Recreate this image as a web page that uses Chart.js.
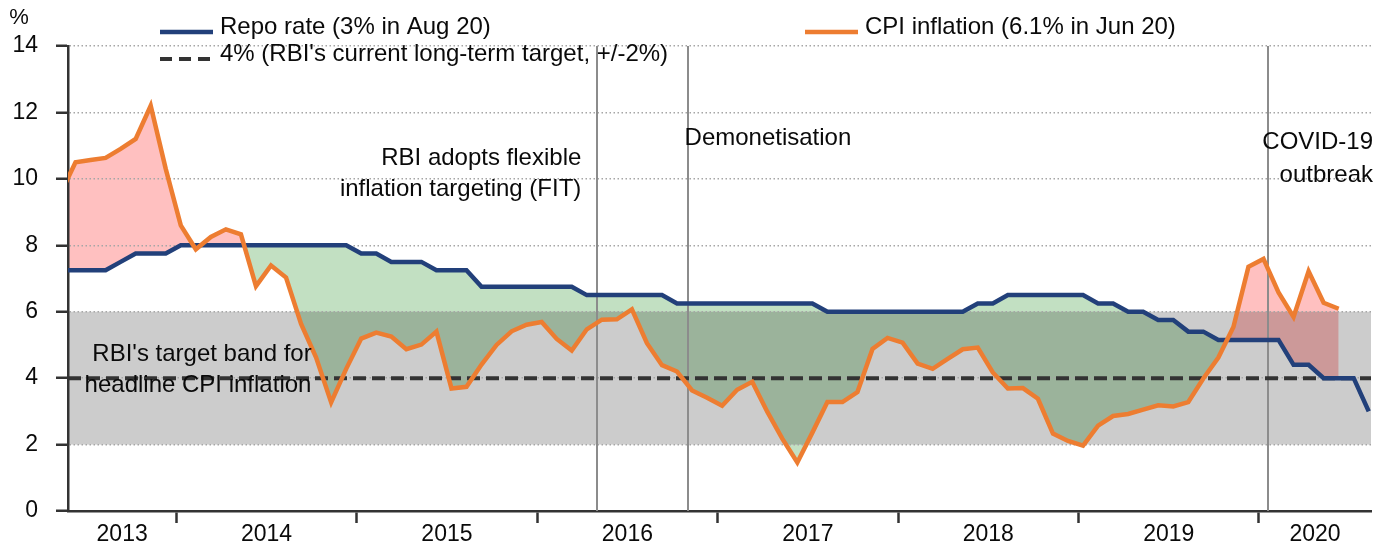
<!DOCTYPE html>
<html>
<head>
<meta charset="utf-8">
<script src="https://cdn.jsdelivr.net/npm/chart.js@4.4.1/dist/chart.umd.min.js"></script>
<style>
  html, body { margin: 0; padding: 0; background: #fff; }
  #wrap { width: 1391px; height: 548px; }
</style>
</head>
<body>
<div id="wrap"><canvas id="graph"></canvas></div>
<script>
// x is counted in months from Jan 2013 (= 0); each monthly value sits a bit into its month
const firstMonth = 4;      // May 2013
const pointOffset = 0.3;
const xMin = 4.8;
const xMax = 91.45;

const yearLabels = ['2013', '2014', '2015', '2016', '2017', '2018', '2019', '2020'];
const yTicks = [0, 2, 4, 6, 8, 10, 12, 14];

// repo rate, May 2013 - Aug 2020
const repoRate = [
  7.25, 7.25, 7.25, 7.25, 7.5, 7.75, 7.75, 7.75,
  8, 8, 8, 8, 8, 8, 8, 8, 8, 8, 8, 8,
  7.75, 7.75, 7.5, 7.5, 7.5, 7.25, 7.25, 7.25, 6.75, 6.75, 6.75, 6.75,
  6.75, 6.75, 6.75, 6.5, 6.5, 6.5, 6.5, 6.5, 6.5, 6.25, 6.25, 6.25,
  6.25, 6.25, 6.25, 6.25, 6.25, 6.25, 6.25, 6, 6, 6, 6, 6,
  6, 6, 6, 6, 6, 6.25, 6.25, 6.5, 6.5, 6.5, 6.5, 6.5,
  6.5, 6.25, 6.25, 6, 6, 5.75, 5.75, 5.4, 5.4, 5.15, 5.15, 5.15,
  5.15, 5.15, 4.4, 4.4, 4, 4, 4, 3
];

// CPI inflation, May 2013 - Jun 2020
const cpiInflation = [
  9.55, 10.5, 10.57, 10.63, 10.9, 11.2, 12.2, 10.3,
  8.6, 7.88, 8.25, 8.48, 8.33, 6.77, 7.39, 7.03, 5.63, 4.62, 3.27, 4.28,
  5.19, 5.37, 5.25, 4.87, 5.01, 5.4, 3.69, 3.74, 4.41, 5.0, 5.41, 5.61,
  5.69, 5.18, 4.83, 5.47, 5.76, 5.77, 6.07, 5.05, 4.39, 4.2, 3.63, 3.41,
  3.17, 3.65, 3.89, 2.99, 2.18, 1.46, 2.36, 3.28, 3.28, 3.58, 4.88, 5.21,
  5.07, 4.44, 4.28, 4.58, 4.87, 4.92, 4.17, 3.69, 3.7, 3.38, 2.33, 2.11,
  1.97, 2.57, 2.86, 2.92, 3.05, 3.18, 3.15, 3.28, 3.99, 4.62, 5.54, 7.35,
  7.59, 6.58, 5.84, 7.22, 6.27, 6.09
];

const targetRate = 4;
const targetBand = [2, 6];

const events = [
  { x: 40.0, lines: ['RBI adopts flexible', 'inflation targeting (FIT)'], align: 'right', y: [10.63, 9.67] },
  { x: 46.0, lines: ['Demonetisation'], align: 'left', y: [11.23] },
  { x: 84.6, lines: ['COVID-19', 'outbreak'], align: 'edge', y: [11.1, 10.1] }
];
const bandText = ["RBI's target band for", 'headline CPI inflation'];

const FONT = "'Liberation Sans', Arial, sans-serif";

const toPoints = arr => arr.map((v, i) => ({ x: firstMonth + i + pointOffset, y: v }));

// year boundaries get a tick mark, year middles get the label
const boundaries = yearLabels.slice(1).map((_, i) => 12 * (i + 1));
const labelTicks = yearLabels.map((label, i) => {
  const lo = Math.max(12 * i, xMin);
  const hi = Math.min(12 * (i + 1), xMax);
  return { value: (lo + hi) / 2, label: label };
});
const isBoundary = v => boundaries.some(b => Math.abs(b - v) < 1e-6);

const bandPlugin = {
  id: 'band',
  beforeDraw(chart) {
    const { ctx, chartArea, scales } = chart;
    const yTop = scales.y.getPixelForValue(targetBand[1]);
    const yBot = scales.y.getPixelForValue(targetBand[0]);
    ctx.save();
    ctx.fillStyle = 'rgba(0,0,0,0.2)';
    ctx.fillRect(chartArea.left, yTop, chartArea.right - chartArea.left, yBot - yTop);
    ctx.restore();
  },
  beforeDatasetsDraw(chart) {
    const { ctx, chartArea, scales } = chart;
    ctx.save();
    ctx.strokeStyle = '#8c8c8c';
    ctx.lineWidth = 2;
    events.forEach(e => {
      const px = Math.round(scales.x.getPixelForValue(e.x));
      ctx.beginPath();
      ctx.moveTo(px, chartArea.top);
      ctx.lineTo(px, chartArea.bottom);
      ctx.stroke();
    });
    ctx.restore();
  },
  afterDraw(chart) {
    const { ctx, chartArea, scales } = chart;
    ctx.save();
    ctx.fillStyle = '#0a0a0a';
    ctx.textBaseline = 'middle';
    ctx.font = '24px ' + FONT;
    events.forEach(e => {
      const px = scales.x.getPixelForValue(e.x);
      e.lines.forEach((t, i) => {
        const py = scales.y.getPixelForValue(e.y[i]);
        if (e.align === 'right') {
          ctx.textAlign = 'right';
          ctx.fillText(t, px - 16, py);
        } else if (e.align === 'left') {
          ctx.textAlign = 'left';
          ctx.fillText(t, px - 3, py);
        } else {
          ctx.textAlign = 'right';
          ctx.fillText(t, chartArea.right + 2, py);
        }
      });
    });
    ctx.textAlign = 'center';
    ctx.fillText(bandText[0], chartArea.left + 134, scales.y.getPixelForValue(4.73));
    ctx.fillText(bandText[1], chartArea.left + 130, scales.y.getPixelForValue(3.79));

    // unit
    ctx.font = '22px ' + FONT;
    ctx.fillText('%', 19, 18);

    // legend
    const slots = [
      { ds: 1, x: 160, y: 27 },
      { ds: 2, x: 160, y: 54 },
      { ds: 0, x: 805, y: 27 }
    ];
    ctx.font = '24px ' + FONT;
    ctx.textAlign = 'left';
    slots.forEach(s => {
      const d = chart.data.datasets[s.ds];
      ctx.save();
      ctx.strokeStyle = d.borderColor;
      ctx.lineWidth = d.borderWidth;
      ctx.setLineDash(d.borderDash ? [12, 7] : []);
      ctx.beginPath();
      ctx.moveTo(s.x, s.y + 5);
      ctx.lineTo(s.x + 53, s.y + 5);
      ctx.stroke();
      ctx.restore();
      ctx.fillText(d.label, s.x + 60, s.y);
    });
    ctx.restore();
  }
};

new Chart(document.getElementById('graph'), {
  type: 'line',
  data: {
    datasets: [{
      label: 'CPI inflation (6.1% in Jun 20)',
      data: toPoints(cpiInflation),
      borderColor: '#ed7d31',
      borderWidth: 4.5,
      pointRadius: 0,
      fill: { target: 1, above: '#ffc0c0', below: '#c2e0c2' }
    }, {
      label: 'Repo rate (3% in Aug 20)',
      data: toPoints(repoRate),
      borderColor: '#22407a',
      borderWidth: 4.5,
      pointRadius: 0,
      fill: false
    }, {
      label: "4% (RBI's current long-term target, +/-2%)",
      data: [{ x: xMin, y: targetRate }, { x: xMax, y: targetRate }],
      borderColor: '#333333',
      borderWidth: 4,
      borderDash: [13, 6],
      pointRadius: 0,
      fill: false
    }]
  },
  options: {
    responsive: true,
    maintainAspectRatio: false,
    animation: false,
    layout: { padding: { top: 46, right: 20, bottom: 0, left: 0 } },
    scales: {
      x: {
        type: 'linear',
        min: xMin,
        max: xMax,
        afterBuildTicks: scale => {
          scale.ticks = boundaries.map(v => ({ value: v }))
            .concat(labelTicks.map(t => ({ value: t.value })))
            .sort((a, b) => a.value - b.value);
        },
        afterFit: scale => { scale.height = 37; },
        ticks: {
          autoSkip: false,
          maxRotation: 0,
          padding: -2,
          color: '#0a0a0a',
          font: { size: 23, family: FONT },
          callback: value => {
            const t = labelTicks.find(l => Math.abs(l.value - value) < 1e-6);
            return t ? t.label : '';
          }
        },
        grid: {
          drawOnChartArea: false,
          drawTicks: true,
          tickLength: 12,
          tickWidth: 2.5,
          tickColor: c => (c.tick && isBoundary(c.tick.value)) ? '#333' : 'rgba(0,0,0,0)'
        },
        border: { color: '#333', width: 2.5 }
      },
      y: {
        min: 0,
        max: 14,
        afterBuildTicks: scale => { scale.ticks = yTicks.map(v => ({ value: v })); },
        afterFit: scale => { scale.width = 68; },
        ticks: {
          padding: 18,
          color: '#0a0a0a',
          font: { size: 23, family: FONT }
        },
        grid: {
          color: c => (c.tick && c.tick.value === 0) ? 'rgba(0,0,0,0)' : '#a6a6a6',
          lineWidth: 1.5,
          tickLength: 12,
          tickWidth: 2.5,
          tickColor: '#333'
        },
        border: { color: '#333', width: 2.5, dash: [1.5, 2.5] }
      }
    },
    plugins: {
      legend: { display: false },
      tooltip: { enabled: false },
      filler: { drawTime: 'beforeDraw', propagate: false }
    }
  },
  plugins: [bandPlugin]
});
</script>
</body>
</html>
